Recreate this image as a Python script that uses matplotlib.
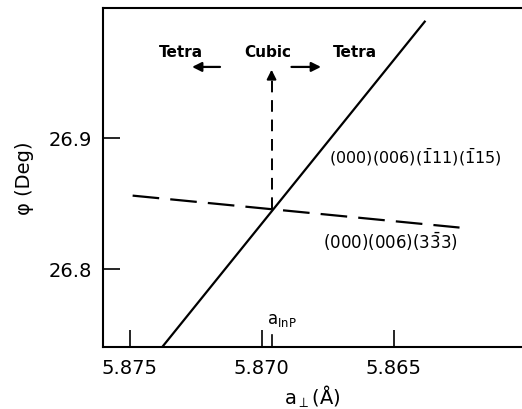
import matplotlib
matplotlib.use('Agg')
import matplotlib.pyplot as plt

# solid line: (000)(006)(-111)(-115)
solid_x = [5.87378, 5.86382]
solid_y = [26.740, 26.9886]

# dashed line: (000)(006)(3-33)
dash_x = [5.8749, 5.8625]
dash_y = [26.8557, 26.8313]

# crossing point / lattice constant of InP
a_inp = 5.86963
phi_cross = 26.8458
arrow_top = 26.954

xticks = [5.875, 5.870, 5.865]
yticks = [26.8, 26.9]

plt.rcParams['font.family'] = 'DejaVu Sans'

fig = plt.figure(figsize=(5.22, 4.10), dpi=100)
ax = fig.add_axes([0.197, 0.151, 0.803, 0.827])

ax.plot(solid_x, solid_y, color='black', lw=1.6)
ax.plot(dash_x, dash_y, color='black', lw=1.6, dashes=(12, 5))

# vertical dashed arrow up to "Cubic"
ax.plot([a_inp, a_inp], [phi_cross, arrow_top - 0.008], color='black', lw=1.4, dashes=(6, 4))
ax.annotate('', xy=(a_inp, arrow_top), xytext=(a_inp, arrow_top - 0.010),
            arrowprops=dict(arrowstyle='-|>', color='black', lw=1.4, mutation_scale=14))

# Tetra arrows
ax.annotate('', xy=(5.87275, 26.954), xytext=(5.87148, 26.954),
            arrowprops=dict(arrowstyle='-|>', color='black', lw=1.6, mutation_scale=14))
ax.annotate('', xy=(5.86765, 26.954), xytext=(5.86898, 26.954),
            arrowprops=dict(arrowstyle='-|>', color='black', lw=1.6, mutation_scale=14))

ax.text(5.87305, 26.966, 'Tetra', fontsize=11, fontweight='bold', ha='center', va='center')
ax.text(5.86977, 26.966, 'Cubic', fontsize=11, fontweight='bold', ha='center', va='center')
ax.text(5.86646, 26.966, 'Tetra', fontsize=11, fontweight='bold', ha='center', va='center')

ax.text(5.86745, 26.886, r'$\mathregular{(000)(006)(\bar{1}11)(\bar{1}15)}$',
        fontsize=11.5, ha='left', va='center')
ax.text(5.86768, 26.821, r'$\mathregular{(000)(006)(3\bar{3}3)}$',
        fontsize=12, ha='left', va='center')
ax.text(5.86982, 26.7545, r'$\mathregular{a_{InP}}$', fontsize=12, ha='left', va='bottom')

# short minor tick marking a_InP
ax.plot([a_inp, a_inp], [26.740, 26.749], color='black', lw=1.2)

ax.set_xlim(5.87603, 5.86013)
ax.set_ylim(26.740, 26.999)
ax.set_xticks(xticks)
ax.set_xticklabels(['5.875', '5.870', '5.865'])
ax.set_yticks(yticks)
ax.set_yticklabels(['26.8', '26.9'])
ax.tick_params(direction='in', length=12, width=1.2, labelsize=14, pad=8)
ax.spines['right'].set_visible(False)
for s in ['left', 'bottom', 'top']:
    ax.spines[s].set_linewidth(1.5)

ax.set_xlabel(r'$\mathregular{a_{\perp}}$(Å)', fontsize=14, labelpad=4)
ax.set_ylabel('φ (Deg)', fontsize=14, labelpad=10)

fig.savefig('out.png', dpi=100)
